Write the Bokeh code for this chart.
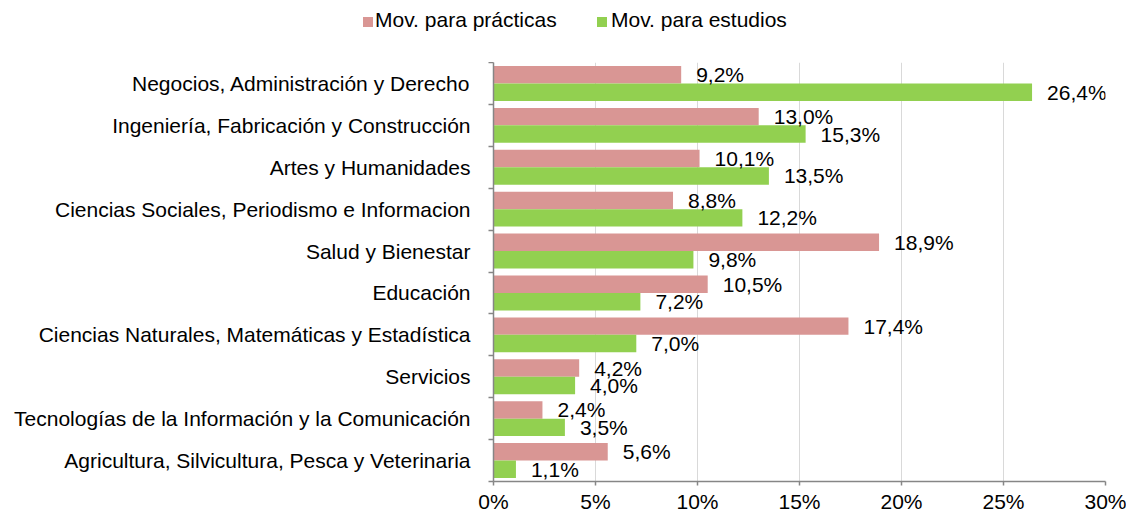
from bokeh.plotting import figure
from bokeh.layouts import column
from bokeh.models import ColumnDataSource, FixedTicker, Range1d, Div
from bokeh.core.properties import value
from bokeh.embed import file_html
from bokeh.resources import INLINE

categories = [
    "Negocios, Administración y Derecho",
    "Ingeniería, Fabricación y Construcción",
    "Artes y Humanidades",
    "Ciencias Sociales, Periodismo e Informacion",
    "Salud y Bienestar",
    "Educación",
    "Ciencias Naturales, Matemáticas y Estadística",
    "Servicios",
    "Tecnologías de la Información y la Comunicación",
    "Agricultura, Silvicultura, Pesca y Veterinaria",
]
practicas = [9.2, 13.0, 10.1, 8.8, 18.9, 10.5, 17.4, 4.2, 2.4, 5.6]
estudios = [26.4, 15.3, 13.5, 12.2, 9.8, 7.2, 7.0, 4.0, 3.5, 1.1]
series_names = ["Mov. para prácticas", "Mov. para estudios"]
x_ticks = [0, 5, 10, 15, 20, 25, 30]
x_tick_labels = ["0%", "5%", "10%", "15%", "20%", "25%", "30%"]

PINK = "#D99694"
GREEN = "#92D050"
AXIS = "#868686"
FONT = "Liberation Sans"
FS = "21px"
W = 1126
LEG_H = 62

n = len(categories)
centers = [n - i - 0.5 for i in range(n)]
bh = 0.417


def fmt(v):
    return f"{v:.1f}".replace(".", ",") + "%"


src_p = ColumnDataSource(dict(y=[c + bh / 2 for c in centers], v=practicas,
                              lab=[fmt(v) for v in practicas]))
src_e = ColumnDataSource(dict(y=[c - bh / 2 for c in centers], v=estudios,
                              lab=[fmt(v) for v in estudios]))

# ---- legend strip (HTML) ----
leg_items = [(series_names[0], PINK, 363, 375), (series_names[1], GREEN, 597, 611)]
parts = []
for name, col, sx, tx in leg_items:
    parts.append(
        f'<div style="position:absolute;left:{sx}px;top:17px;width:10px;height:10px;'
        f'background:{col};"></div>'
        f'<div style="position:absolute;left:{tx}px;top:8px;white-space:nowrap;'
        f'line-height:normal;">{name}</div>'
    )
html = (f'<div style="position:relative;width:{W}px;height:{LEG_H}px;'
        f"font-family:'{FONT}';font-size:{FS};color:black;\">" + "".join(parts) + "</div>")
leg = Div(text=html, width=W, height=LEG_H, margin=(0, 0, 0, 0))

# ---- main chart ----
p = figure(width=W, height=515 - LEG_H, output_backend="svg", toolbar_location=None,
           x_range=Range1d(0, 30), y_range=Range1d(0, n),
           min_border_left=493, min_border_right=21, min_border_top=0,
           min_border_bottom=32, margin=(0, 0, 0, 0))
p.outline_line_color = None

p.hbar(y="y", left=0, right="v", height=bh, source=src_p, fill_color=PINK, line_color=None)
p.hbar(y="y", left=0, right="v", height=bh, source=src_e, fill_color=GREEN, line_color=None)

for s in (src_p, src_e):
    p.text(x="v", y="y", text="lab", source=s, x_offset=15, text_baseline="middle",
           text_align="left", text_font=value(FONT), text_font_size=FS, text_color="black")

xa = p.xaxis[0]
xa.ticker = FixedTicker(ticks=x_ticks)
xa.major_label_overrides = {t: l for t, l in zip(x_ticks, x_tick_labels)}
xa.major_tick_out = 4
xa.major_tick_in = 0
xa.minor_tick_line_color = None
xa.axis_line_color = AXIS
xa.axis_line_width = 1.5
xa.major_tick_line_color = AXIS
xa.major_tick_line_width = 1.5
xa.major_label_text_font = FONT
xa.major_label_text_font_size = FS
xa.major_label_text_color = "black"
xa.major_label_standoff = 4

ya = p.yaxis[0]
ya.ticker = FixedTicker(ticks=centers, minor_ticks=list(range(n + 1)))
ya.major_label_overrides = {c: name for c, name in zip(centers, categories)}
ya.major_tick_line_color = None
ya.major_tick_out = 0
ya.major_tick_in = 0
ya.minor_tick_line_color = AXIS
ya.minor_tick_line_width = 1.5
ya.minor_tick_out = 5
ya.minor_tick_in = 0
ya.axis_line_color = AXIS
ya.axis_line_width = 1.5
ya.major_label_text_font = FONT
ya.major_label_text_font_size = FS
ya.major_label_text_color = "black"
ya.major_label_standoff = 18

p.xgrid.grid_line_color = "#D9D9D9"
p.xgrid.grid_line_width = 1
p.ygrid.grid_line_color = None

layout = column(leg, p, spacing=0)
open("out.html", "w").write(file_html(layout, INLINE))
